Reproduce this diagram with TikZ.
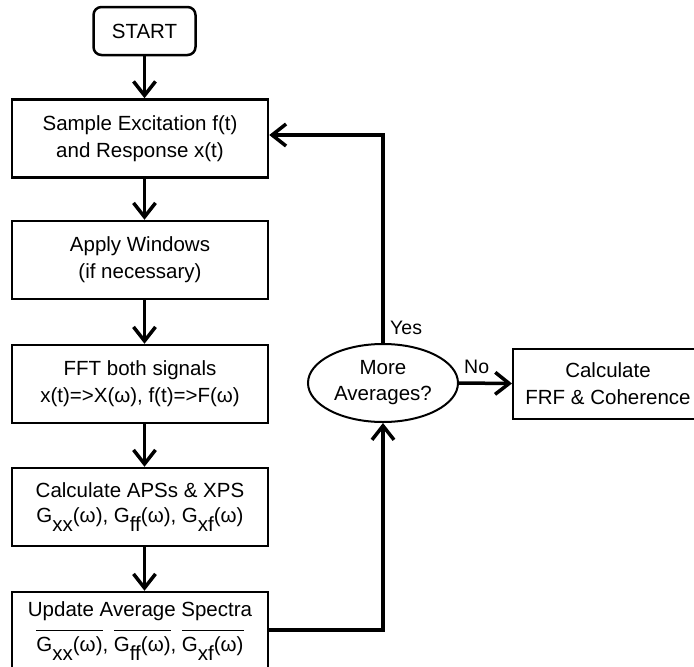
\documentclass[tikz,border=0pt]{standalone}
\usepackage{fontspec}
\setmainfont{Liberation Sans}
\usepackage{tikz}
\usetikzlibrary{arrows.meta}
\usetikzlibrary{shapes.geometric}
\tikzset{>={Straight Barb[length=14pt,width=22pt]}}
\tikzstyle{stepbox} = [draw, line width=2.5pt, minimum width=256pt,
    minimum height=78pt, align=center, font=\fontsize{20.5}{27}\selectfont]
\tikzstyle{startbox} = [stepbox, rounded corners=8pt,
    minimum width=102pt, minimum height=48pt]
\tikzstyle{decision} = [draw, ellipse, line width=2pt, minimum width=150pt,
    minimum height=78pt, inner sep=0pt, align=center,
    font=\fontsize{20.5}{26}\selectfont]
\tikzstyle{flow} = [->, line width=3.5pt]
\tikzstyle{answer} = [anchor=base west, inner sep=0pt,
    font=\fontsize{19.5}{24}\selectfont]
\newcommand{\gsub}[1]{G\raisebox{-0.4em}{#1}(ω)}
\newcommand{\avg}[1]{\setbox0\hbox{#1}\rlap{\rule[1.0em]{\wd0}{1.5pt}}\box0}

\begin{document}
\begin{tikzpicture}
\begin{scope}[x=1pt,y=-1pt]
    \useasboundingbox (0,0) rectangle (694,667);
    \clip (0,0) rectangle (694,667);
    %boxes
    \node[startbox] (start) at (144.5,31) {START};
    \node[stepbox] (sample) at (140,138.5) {Sample Excitation f(t)\\and Response x(t)};
    \node[stepbox] (apply) at (140,260) {Apply Windows\\(if necessary)};
    \node[stepbox] (fft) at (140,384) {FFT both signals\\x(t)=>X(ω), f(t)=>F(ω)};
    \node[stepbox] (aps) at (140,507) {Calculate APSs \& XPS\\[-2pt]\gsub{xx}, \gsub{ff}, \gsub{xf}};
    \node[stepbox] (update) at (140,631) {Update Average Spectra\\[8pt]\avg{\gsub{xx}}, \avg{\gsub{ff}}, \avg{\gsub{xf}}};
    \node[decision] (more) at (383,383) {More\\Averages?};
    \node[stepbox, line width=2pt, minimum width=190pt, minimum height=70pt] (calc) at (608,383.5) {Calculate\\FRF \& Coherence};
    %corners
    \coordinate (loop) at (383,135);
    \coordinate (back) at (383,630);
    %arrows
    \draw[flow] (start.south) -- (start.south |- sample.north);
    \draw[flow] (sample.south -| start) -- (apply.north -| start);
    \draw[flow] (apply.south -| start) -- (fft.north -| start);
    \draw[flow] (fft.south -| start) -- (aps.north -| start);
    \draw[flow] (aps.south -| start) -- (update.north -| start);
    \draw[flow] (update.east |- back) -- (back) -- (more.south);
    \draw[flow] (more.north) -- (loop) -- (loop -| sample.east);
    \draw[flow] (more.east) -- (calc.west);
    %labels
    \node[answer] (yes) at ([shift={(7,-9)}]more.north) {Yes};
    \node[answer] (no) at ([shift={(5,-10)}]more.east) {No};
\end{scope}
\end{tikzpicture}
\end{document}
